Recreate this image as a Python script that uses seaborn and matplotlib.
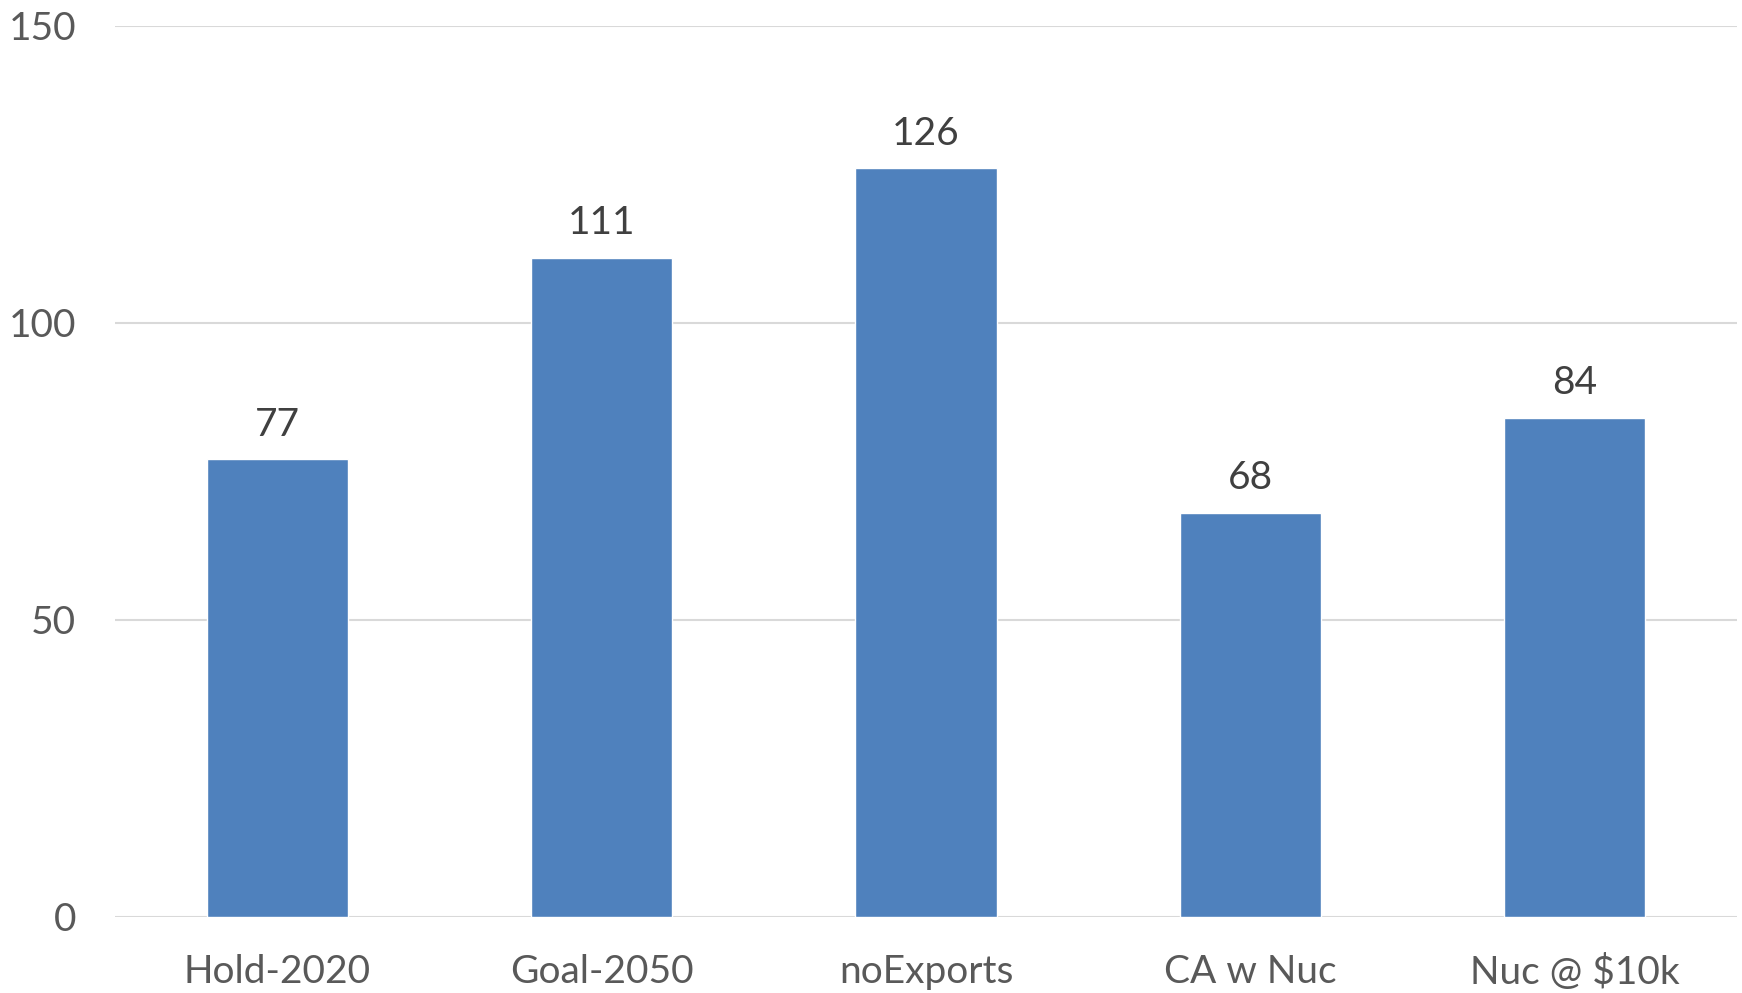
import matplotlib
matplotlib.use("Agg")
import matplotlib.pyplot as plt
import seaborn as sns
import pandas as pd

categories = ["Hold-2020", "Goal-2050", "noExports", "CA w Nuc", "Nuc @ $10k"]
values = [77, 111, 126, 68, 84]
y_ticks = [0, 50, 100, 150]

sns.set_theme(style="white")
plt.rcParams["font.family"] = ["Lato", "DejaVu Sans"]

df = pd.DataFrame({"scenario": categories, "value": values})

fig = plt.figure(figsize=(17.42, 9.93), dpi=100)
ax = fig.add_axes([115 / 1742, 1 - 916.5 / 993, (1737 - 115) / 1742, (916.5 - 26) / 993])

sns.barplot(data=df, x="scenario", y="value", color="#4F81BD", saturation=1,
            width=0.435, ax=ax, zorder=3)

ax.set_ylim(0, 150)
ax.set_xlim(-0.5, len(categories) - 0.5)
ax.set_yticks(y_ticks)
ax.yaxis.grid(True, color="#D9D9D9", linewidth=1.5, zorder=0)
ax.set_axisbelow(True)
for s in ["top", "right", "left", "bottom"]:
    ax.spines[s].set_visible(False)
ax.set_xlabel("")
ax.set_ylabel("")
ax.tick_params(axis="y", length=0, pad=28, labelsize=28, labelcolor="#595959")
ax.tick_params(axis="x", length=0, pad=27, labelsize=28, labelcolor="#595959")

for container in ax.containers:
    ax.bar_label(container, labels=[str(v) for v in values], padding=12,
                 fontsize=28, color="#404040")

fig.savefig("out.png", dpi=100)
